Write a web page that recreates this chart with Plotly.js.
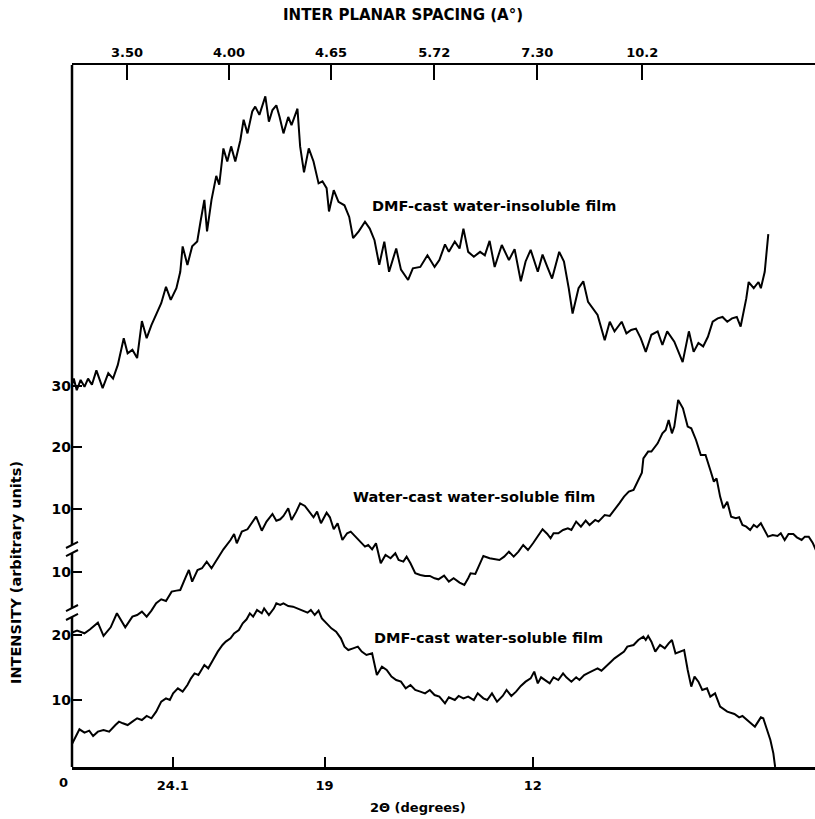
<!DOCTYPE html>
<html>
<head>
<meta charset="utf-8">
<script src="https://cdn.plot.ly/plotly-3.0.1.min.js"></script>
<style>html,body{margin:0;padding:0;background:#fff;}#chart{width:815px;height:819px;}</style>
</head>
<body>
<div id="chart"></div>
<script>
// 2-theta (degrees) and intensity (stacked, arbitrary units)
const insolubleX = [27.49,27.43,27.33,27.20,27.07,26.95,26.82,26.67,26.46,26.27,
  26.11,25.95,25.75,25.62,25.46,25.30,25.14,24.98,24.82,24.66,
  24.49,24.33,24.17,23.98,23.85,23.77,23.61,23.45,23.28,23.17,
  23.04,22.95,22.80,22.64,22.54,22.40,22.27,22.14,22.00,21.83,
  21.72,21.59,21.43,21.33,21.19,20.99,20.87,20.75,20.62,20.51,
  20.38,20.22,20.11,19.91,19.82,19.69,19.53,19.37,19.20,19.07,
  18.93,18.85,18.69,18.53,18.33,18.17,18.04,17.85,17.64,17.48,
  17.32,17.16,16.99,16.83,16.59,16.43,16.19,16.03,15.78,15.54,
  15.30,15.14,14.95,14.82,14.62,14.46,14.33,14.17,13.98,13.77,
  13.61,13.45,13.28,13.04,12.80,12.61,12.40,12.24,12.07,11.83,
  11.67,11.51,11.35,11.11,10.95,10.79,10.66,10.46,10.30,10.14,
  9.98,9.82,9.58,9.41,9.25,9.01,8.85,8.69,8.53,8.37,
  8.20,8.01,7.80,7.64,7.48,7.24,6.96,6.75,6.59,6.43,
  6.27,6.11,5.95,5.78,5.62,5.46,5.30,5.14,5.01,4.82,
  4.74,4.57,4.41,4.33,4.20,4.14,4.08];
const insolubleY = [55.8,56.7,55.0,56.5,55.5,56.7,55.8,57.9,55.3,57.5,
  56.7,58.7,62.6,60.4,60.9,59.7,65.1,62.6,64.5,66.0,
  67.7,70.1,68.2,69.9,72.3,76.0,73.3,76.0,76.7,79.6,
  82.8,78.2,82.8,86.3,85.0,90.3,88.4,90.6,88.4,91.5,
  94.5,92.5,95.7,96.4,95.2,97.9,94.2,95.9,96.6,94.9,
  92.5,94.9,93.7,96.1,90.6,86.8,90.3,88.4,85.2,85.5,
  84.5,81.1,84.2,82.5,82.0,80.3,77.2,78.2,79.6,78.6,
  76.9,73.3,76.7,72.3,75.7,72.6,71.1,72.8,73.0,74.7,
  73.0,74.0,76.3,75.2,76.7,75.7,78.6,75.2,74.5,75.2,
  74.7,76.8,73.0,76.2,74.0,75.6,70.9,73.8,75.5,72.3,
  74.8,73.0,71.3,75.2,73.8,69.9,66.2,69.9,70.9,67.9,
  67.0,66.0,62.3,65.0,63.6,65.0,63.3,63.8,64.0,62.6,
  60.6,63.1,63.6,61.6,63.6,62.1,59.1,63.6,60.6,61.9,
  61.4,62.8,65.0,65.5,65.7,65.0,65.5,65.7,64.3,68.4,
  70.8,69.9,70.8,69.9,72.3,75.2,77.8];

const waterCastX = [27.49,27.32,27.07,26.88,26.62,26.43,26.19,25.98,25.70,25.46,
  25.30,25.14,24.98,24.82,24.66,24.49,24.33,24.14,23.98,23.85,
  23.66,23.56,23.45,23.27,23.12,22.96,22.80,22.59,22.40,22.16,
  22.04,21.95,21.78,21.59,21.43,21.30,21.11,20.95,20.75,20.62,
  20.49,20.38,20.22,20.11,19.95,19.82,19.66,19.49,19.37,19.25,
  19.12,18.93,18.82,18.69,18.56,18.40,18.24,18.12,17.96,17.80,
  17.64,17.53,17.40,17.27,17.11,16.95,16.78,16.62,16.51,16.35,
  16.24,16.11,15.95,15.78,15.62,15.46,15.30,15.17,14.98,14.82,
  14.66,14.46,14.30,14.17,14.09,13.93,13.77,13.66,13.45,13.28,
  13.12,12.96,12.80,12.64,12.48,12.32,12.16,11.99,11.83,11.67,
  11.51,11.40,11.30,11.14,10.98,10.82,10.70,10.54,10.38,10.22,
  10.09,9.90,9.79,9.58,9.41,9.25,9.09,8.93,8.77,8.61,
  8.45,8.33,8.28,8.12,8.01,7.80,7.64,7.53,7.43,7.32,
  7.24,7.11,6.95,6.79,6.67,6.51,6.35,6.19,6.03,5.91,
  5.82,5.70,5.59,5.46,5.33,5.17,5.06,4.95,4.82,4.69,
  4.57,4.46,4.33,4.20,4.09,3.93,3.77,3.66,3.53,3.40,
  3.24,3.12,2.96,2.85,2.72,2.59,2.48];
const waterCastY = [19.61,19.91,19.52,20.10,21.07,19.13,20.39,22.44,20.39,21.95,
  22.19,22.68,21.95,22.83,23.90,24.48,24.24,25.60,25.75,25.84,
  27.79,28.76,27.06,28.76,29.01,29.98,29.01,30.47,31.78,33.14,
  34.02,32.66,34.36,34.70,35.82,36.55,34.50,35.82,36.94,35.96,
  36.16,36.65,37.77,36.06,37.28,38.49,38.11,37.04,36.45,37.28,
  35.58,37.13,36.45,34.70,35.58,33.14,34.12,34.36,33.63,32.90,
  32.17,32.41,31.78,32.66,29.74,30.95,30.47,31.20,30.22,29.98,
  30.71,29.74,28.28,28.03,27.89,27.89,27.55,27.40,27.94,27.06,
  27.55,26.91,26.57,27.55,28.28,28.18,29.83,30.81,30.47,30.32,
  30.22,30.71,31.44,30.71,31.44,32.41,31.68,32.66,33.63,34.70,
  34.02,33.39,34.12,34.12,34.60,34.85,34.60,35.82,35.09,35.96,
  35.33,36.06,35.82,36.79,36.65,37.52,38.49,39.47,40.20,40.44,
  41.90,42.97,45.06,46.04,46.04,47.25,48.71,49.20,50.66,48.71,
  49.69,53.58,52.36,49.69,49.44,47.74,45.55,45.55,43.36,41.66,
  42.14,39.47,37.77,38.74,36.55,36.31,36.45,35.33,35.09,34.60,
  35.33,34.99,35.58,34.60,33.63,33.87,33.73,34.12,33.14,34.02,
  34.02,33.53,33.14,33.63,33.63,32.75,31.68];

const dmfSolubleX = [27.49,27.24,27.07,26.91,26.78,26.62,26.43,26.24,26.03,25.91,
  25.78,25.62,25.46,25.30,25.14,24.98,24.82,24.66,24.49,24.33,
  24.20,24.09,23.93,23.77,23.61,23.49,23.37,23.24,23.04,22.91,
  22.75,22.59,22.43,22.32,22.16,22.04,21.88,21.75,21.62,21.51,
  21.40,21.27,21.11,21.03,20.87,20.70,20.62,20.49,20.38,20.22,
  20.06,19.90,19.74,19.57,19.46,19.33,19.20,19.09,18.93,18.77,
  18.61,18.45,18.33,18.20,18.04,17.88,17.75,17.59,17.40,17.24,
  17.07,16.91,16.75,16.59,16.43,16.27,16.11,15.95,15.78,15.62,
  15.46,15.30,15.14,14.95,14.82,14.62,14.49,14.33,14.17,13.98,
  13.85,13.66,13.53,13.37,13.20,13.01,12.88,12.72,12.56,12.40,
  12.24,12.07,11.95,11.83,11.72,11.59,11.43,11.30,11.14,10.98,
  10.87,10.70,10.54,10.43,10.27,10.11,9.95,9.82,9.69,9.53,
  9.37,9.25,9.09,8.93,8.82,8.61,8.45,8.28,8.20,8.12,
  8.01,7.88,7.72,7.56,7.43,7.32,7.20,7.07,6.91,6.79,
  6.67,6.56,6.43,6.30,6.14,6.03,5.87,5.70,5.46,5.22,
  5.06,4.95,4.74,4.53,4.33,4.25,4.14,4.01,3.91,3.85];
const dmfSolubleY = [3.36,5.50,5.01,5.30,4.53,5.16,5.40,5.16,6.13,6.62,
  6.38,6.13,6.62,7.11,6.86,7.45,7.11,8.08,9.54,10.02,
  9.78,10.75,11.48,11.00,11.97,12.94,13.67,13.43,14.89,14.40,
  15.62,16.84,17.81,18.30,18.78,19.51,20.00,20.97,21.56,22.43,
  21.95,22.92,22.43,23.16,22.19,23.16,23.89,23.65,23.89,23.50,
  23.41,23.16,22.82,22.53,22.92,22.19,22.82,21.70,20.97,20.24,
  19.76,18.78,17.57,17.08,17.32,17.57,16.84,16.35,16.59,13.43,
  14.65,14.16,13.19,12.70,12.46,11.48,11.97,11.24,11.00,10.75,
  11.24,10.51,10.27,9.29,10.17,9.78,10.37,10.02,10.27,9.78,
  10.75,10.02,9.78,10.75,9.54,10.37,11.24,10.37,11.00,11.83,
  12.46,12.94,13.92,12.21,13.09,12.70,12.21,13.09,12.70,13.67,
  13.09,12.46,13.09,12.70,13.43,13.77,14.16,14.40,14.06,14.65,
  15.38,15.86,16.35,16.84,17.57,17.81,18.54,19.03,18.54,19.12,
  18.30,16.84,17.81,17.32,18.05,18.54,16.59,16.84,17.08,14.16,
  11.73,13.19,12.46,11.24,11.48,10.27,10.75,8.81,8.08,7.74,
  7.25,7.45,6.62,5.89,7.25,7.11,5.65,3.94,2.00,0];

const seriesNames = ["DMF-cast water-insoluble film", "Water-cast water-soluble film", "DMF-cast water-soluble film"];

// axis ticks
const bottomTickVals = [24.1, 19, 12];
const bottomTickText = ["24.1", "19", "12"];
const topTickVals = [25.64, 22.21, 18.78, 15.31, 11.85, 8.32];
const topTickText = ["3.50", "4.00", "4.65", "5.72", "7.30", "10.2"];
const yTickVals = [9.78, 19.27, 28.47, 37.66, 46.72, 55.62];
const yTickText = ["10", "20", "10", "10", "20", "30"];

const FONT = "DejaVu Sans";
const lineStyle = {color: "#000", width: 2};

const traces = [
  {x: insolubleX, y: insolubleY, name: seriesNames[0], xaxis: "x2", yaxis: "y", mode: "lines", line: lineStyle, hoverinfo: "skip"},
  {x: waterCastX, y: waterCastY, name: seriesNames[1], mode: "lines", line: lineStyle, hoverinfo: "skip"},
  {x: dmfSolubleX, y: dmfSolubleY, name: seriesNames[2], mode: "lines", line: lineStyle, hoverinfo: "skip"}
];

const XR = [27.49, 2.51];
const YR = [0, 102.48];
const axisLine = {color: "#000", width: 2.5};
const slash = {color: "#000", width: 2};

const shapes = [
  {type: "line", xref: "paper", yref: "y", x0: 0, x1: 0, y0: YR[1], y1: 32.41, line: axisLine},
  {type: "line", xref: "paper", yref: "y", x0: 0, x1: 0, y0: 31.24, y1: 23.21, line: axisLine},
  {type: "line", xref: "paper", yref: "y", x0: 0, x1: 0, y0: 21.90, y1: 0, line: axisLine},
  {type: "line", xref: "paper", xsizemode: "pixel", xanchor: 0, x0: -6, x1: 6, yref: "y", y0: 31.97, y1: 32.85, line: slash},
  {type: "line", xref: "paper", xsizemode: "pixel", xanchor: 0, x0: -6, x1: 6, yref: "y", y0: 30.80, y1: 31.68, line: slash},
  {type: "line", xref: "paper", xsizemode: "pixel", xanchor: 0, x0: -6, x1: 6, yref: "y", y0: 22.77, y1: 23.65, line: slash},
  {type: "line", xref: "paper", xsizemode: "pixel", xanchor: 0, x0: -6, x1: 6, yref: "y", y0: 21.46, y1: 22.34, line: slash}
];

function ann(text, x, y, size, extra) {
  return Object.assign({text: text, xref: "paper", yref: "paper", x: x, y: y, showarrow: false,
    xanchor: "center", yanchor: "middle",
    font: {family: FONT, size: size, color: "#000", weight: "bold"}}, extra || {});
}

const annotations = [
  ann("INTER PLANAR SPACING (A°)", 0.4455, 1.0712, 15),
  ann("2Θ (degrees)", 0.4657, -0.057, 13),
  ann("INTENSITY (arbitrary units)", -0.0754, 0.2778, 14.5, {textangle: -90}),
  ann("0", -0.0121, -0.0214, 13),
  ann(seriesNames[0], 0.5686, 0.7991, 14.5),
  ann(seriesNames[1], 0.5410, 0.3846, 14.5),
  ann(seriesNames[2], 0.5599, 0.1838, 14.5)
];

const tickFont = {family: FONT, size: 13, color: "#000", weight: "bold"};

const layout = {
  width: 815, height: 819,
  margin: {l: 72, r: 0, t: 65, b: 52, pad: 0},
  paper_bgcolor: "#fff", plot_bgcolor: "#fff",
  showlegend: false,
  font: {family: FONT, color: "#000"},
  xaxis: {range: XR, tickmode: "array", tickvals: bottomTickVals, ticktext: bottomTickText,
    ticks: "inside", ticklen: 10, tickwidth: 2, tickcolor: "#000",
    showline: true, linewidth: 2.5, linecolor: "#000", showgrid: false, zeroline: false,
    tickfont: tickFont, ticklabelstandoff: 5},
  xaxis2: {range: XR, overlaying: "x", side: "top", tickmode: "array", tickvals: topTickVals, ticktext: topTickText,
    ticks: "inside", ticklen: 15, tickwidth: 2, tickcolor: "#000",
    showline: true, linewidth: 2.5, linecolor: "#000", showgrid: false, zeroline: false,
    tickfont: tickFont, ticklabelstandoff: 0},
  yaxis: {range: YR, tickmode: "array", tickvals: yTickVals, ticktext: yTickText,
    ticks: "inside", ticklen: 10, tickwidth: 2, tickcolor: "#000",
    showline: false, showgrid: false, zeroline: false,
    tickfont: {family: FONT, size: 14, color: "#000", weight: "bold"}},
  shapes: shapes,
  annotations: annotations
};

Plotly.newPlot("chart", traces, layout, {staticPlot: true, displayModeBar: false});
</script>
</body>
</html>
